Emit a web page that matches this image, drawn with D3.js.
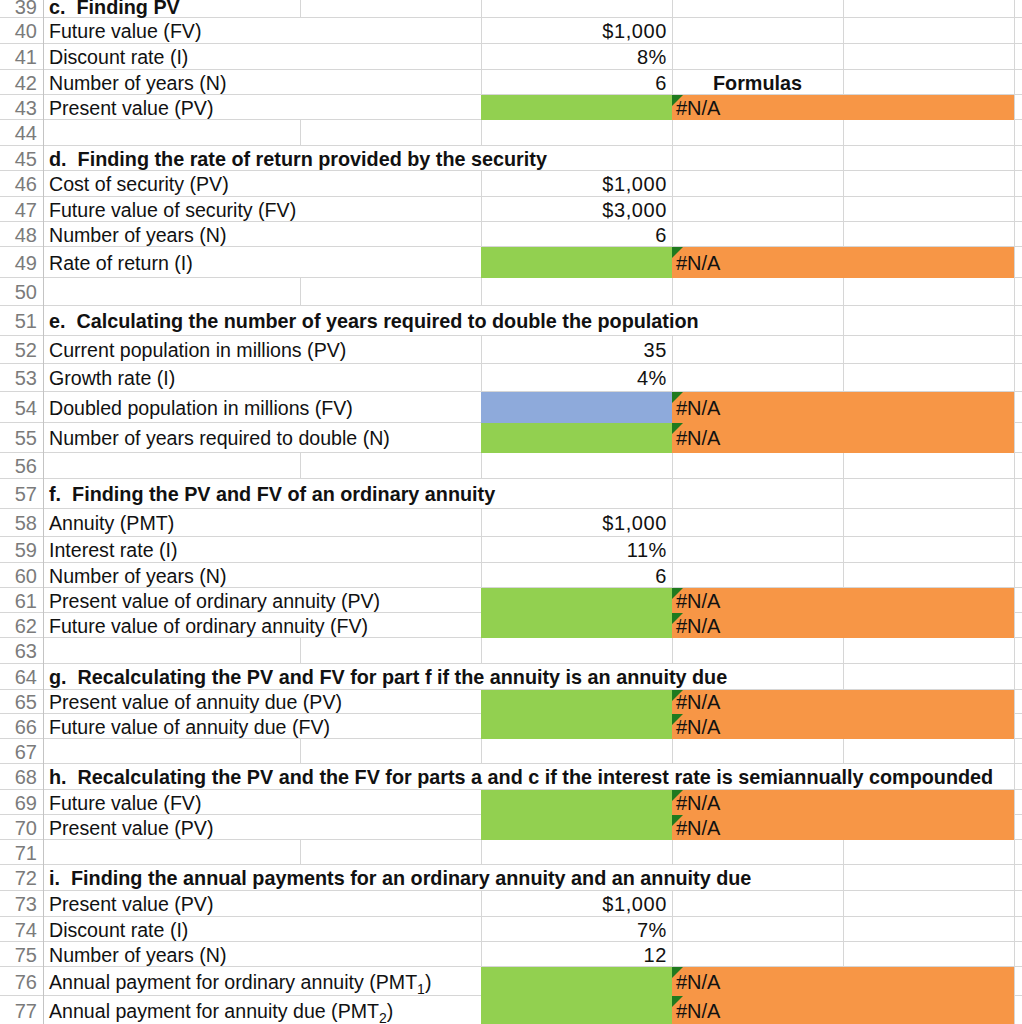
<!DOCTYPE html>
<html><head><meta charset="utf-8">
<script src="https://cdn.jsdelivr.net/npm/d3@7"></script>
<style>html,body{margin:0;padding:0;background:#fff;overflow:hidden}</style>
</head><body><svg id="c" width="1022" height="1024"></svg>
<script>
// ---- data ----
const rowNumbers = d3.range(39, 78);
const rowKinds = ["head","input","input","input","input","empty",
  "head","input","input","input","input","empty",
  "head","input","input","input","input","empty",
  "head","input","input","input","input","input","empty",
  "head","input","input","empty",
  "head","input","input","empty",
  "head","input","input","input","input","input"];
const labels = ["c.  Finding PV","Future value (FV)","Discount rate (I)","Number of years (N)","Present value (PV)","",
  "d.  Finding the rate of return provided by the security","Cost of security (PV)","Future value of security (FV)","Number of years (N)","Rate of return (I)","",
  "e.  Calculating the number of years required to double the population","Current population in millions (PV)","Growth rate (I)","Doubled population in millions (FV)","Number of years required to double (N)","",
  "f.  Finding the PV and FV of an ordinary annuity","Annuity (PMT)","Interest rate (I)","Number of years (N)","Present value of ordinary annuity (PV)","Future value of ordinary annuity (FV)","",
  "g.  Recalculating the PV and FV for part f if the annuity is an annuity due","Present value of annuity due (PV)","Future value of annuity due (FV)","",
  "h.  Recalculating the PV and the FV for parts a and c if the interest rate is semiannually compounded","Future value (FV)","Present value (PV)","",
  "i.  Finding the annual payments for an ordinary annuity and an annuity due","Present value (PV)","Discount rate (I)","Number of years (N)","Annual payment for ordinary annuity (PMT_1)","Annual payment for annuity due (PMT_2)"];
const inputValues = ["","$1,000","8%","6","","",
  "","$1,000","$3,000","6","","",
  "","35","4%","","","",
  "","$1,000","11%","6","","","",
  "","","","",
  "","","","",
  "","$1,000","7%","12","",""];
const inputFills = ["","","","","green","",
  "","","","","green","",
  "","","","blue","green","",
  "","","","","green","green","",
  "","green","green","",
  "","green","green","",
  "","","","","green","green"];
const formulaResults = inputFills.map(f => f ? "#N/A" : "");
const columnENotes = rowNumbers.map(r => r === 42 ? "Formulas" : "");

// ---- layout ----
const W = 1022, H = 1024;
const firstTop = -5;
const rowHeights = [22,26,26,25,25,26,25,26,25,25,31,28,30,28,28,31,30,26,30,28,26,25,25,25,26,26,24,25,25,26,25,25,25,26,26,25,25,29,30];
const colEdges = [43,300,481,672,843,1014];
const font = "'Liberation Sans', Arial, Helvetica, sans-serif";
const fs = 20, fsLabel = 19.6, fsHead = 19.8;
const colors = {green:"#92d050", blue:"#8eaadb", orange:"#f79646", grid:"#d6d6d6", head:"#c4c4c4", rownum:"#7b7b7b", tri:"#1f7a1f"};

const tops = [firstTop, ...d3.cumsum(rowHeights).map(v => v + firstTop)];
const y = d3.scaleOrdinal().domain(rowNumbers).range(tops.slice(0, -1));
const hOf = d3.scaleOrdinal().domain(rowNumbers).range(rowHeights);
const x = d3.scaleOrdinal().domain(["A","B","C","D","E","F","G"]).range([0, ...colEdges]);

const svg = d3.select("#c").style("font-family", font);
svg.append("rect").attr("width", W).attr("height", H).attr("fill", "#fff");
const gGrid = svg.append("g");
const gFill = svg.append("g");
const gText = svg.append("g");

const rows = rowNumbers.map((r, i) => ({r, i, kind: rowKinds[i], label: labels[i], val: inputValues[i],
  fill: inputFills[i], res: formulaResults[i], note: columnENotes[i]}));

// fills
rows.filter(d => d.fill).forEach(d => {
  gFill.append("rect").attr("x", x("D")).attr("y", y(d.r) + 1)
    .attr("width", x("E") - x("D")).attr("height", hOf(d.r))
    .attr("fill", colors[d.fill]);
  gFill.append("rect").attr("x", x("E")).attr("y", y(d.r) + 1)
    .attr("width", x("G") - x("E")).attr("height", hOf(d.r))
    .attr("fill", colors.orange);
});

// text
const textEnds = {};
rows.forEach(d => {
  const base = y(d.r) + hOf(d.r) / 2 + 8;
  gText.append("text").attr("x", 37).attr("y", base).attr("text-anchor", "end")
    .attr("font-size", fs).attr("fill", colors.rownum).text(d.r);
  if (d.label) {
    const isHead = d.kind === "head";
    const t = gText.append("text").attr("x", 49).attr("y", base)
      .attr("font-size", isHead ? fsHead : fsLabel)
      .attr("fill", "#111").style("white-space", "pre")
      .attr("font-weight", isHead ? "bold" : null);
    const parts = d.label.split(/_(\d)/);
    let prevSub = false;
    parts.forEach((p, k) => {
      if (k % 2 === 0) {
        if (p) { const s = t.append("tspan").text(p); if (prevSub) s.attr("dy", -5); }
        prevSub = false;
      } else {
        t.append("tspan").attr("font-size", 14).attr("dy", 5).text(p);
        prevSub = true;
      }
    });
    textEnds[d.r] = 49 + t.node().getComputedTextLength();
  }
  if (d.val) gText.append("text").attr("x", x("E") - 5).attr("y", base).attr("text-anchor", "end")
    .attr("font-size", fs).attr("letter-spacing", 0.6).attr("fill", "#111").text(d.val);
  if (d.note) gText.append("text").attr("x", (x("E") + x("F")) / 2).attr("y", base).attr("text-anchor", "middle")
    .attr("font-size", fsHead).attr("font-weight", "bold").attr("fill", "#111").text(d.note);
  if (d.res) {
    gText.append("text").attr("x", x("E") + 4).attr("y", base).attr("font-size", fs).attr("fill", "#111").text(d.res);
    gText.append("path").attr("d", `M${x("E")},${y(d.r)+1}h11l-11,11z`).attr("fill", colors.tri);
  }
});

// gridlines
rows.forEach(d => {
  const yb = Math.round(y(d.r) + hOf(d.r)) + 0.5;
  gGrid.append("line").attr("x1", 0).attr("x2", W).attr("y1", yb).attr("y2", yb)
    .attr("stroke", colors.grid).attr("stroke-width", 1);
  const top = y(d.r), bot = top + hOf(d.r);
  colEdges.forEach((cx, k) => {
    let hidden = false;
    if (k > 0) {
      if (d.kind === "input" && cx === x("C")) hidden = true;
      if (d.kind === "head" && textEnds[d.r] && cx < textEnds[d.r] + 3) hidden = true;
    }
    if (hidden) return;
    gGrid.append("line").attr("x1", cx + 0.5).attr("x2", cx + 0.5).attr("y1", top).attr("y2", bot)
      .attr("stroke", k === 0 ? colors.head : colors.grid).attr("stroke-width", 1);
  });
});
</script></body></html>
